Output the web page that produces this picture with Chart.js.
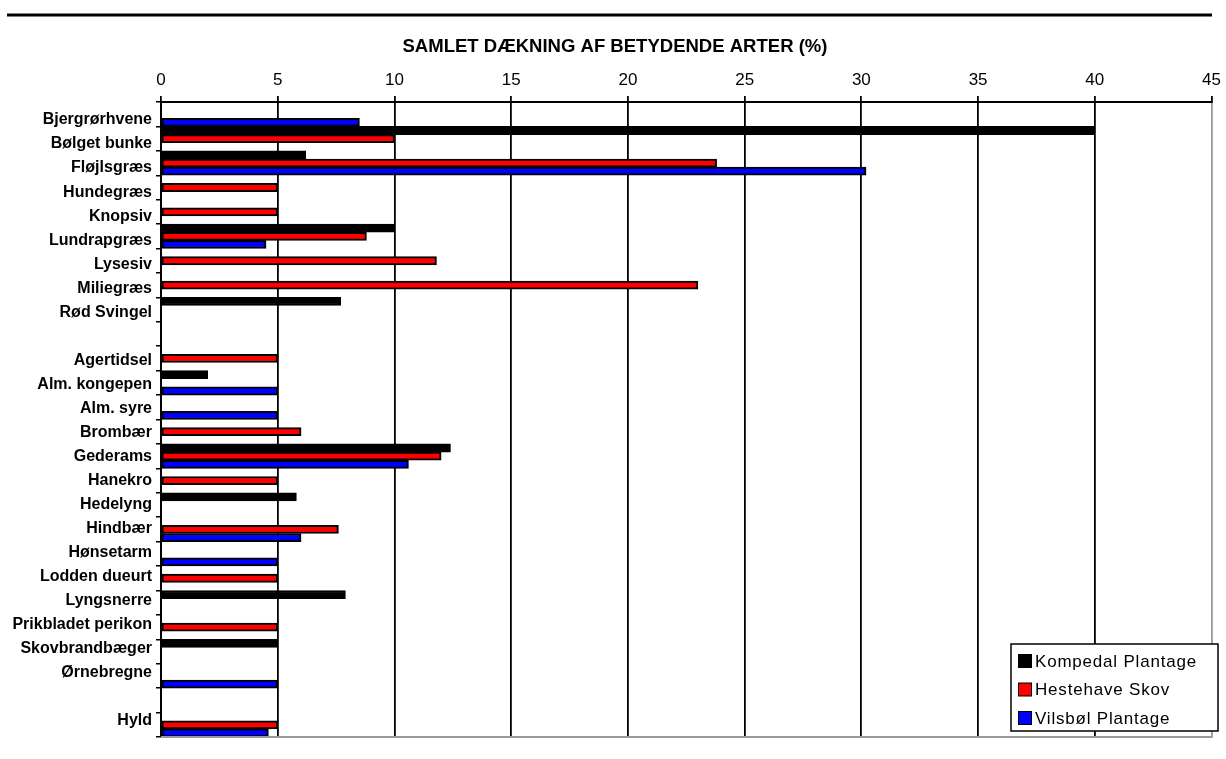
<!DOCTYPE html>
<html>
<head>
<meta charset="utf-8">
<script src="https://cdn.jsdelivr.net/npm/chart.js@4/dist/chart.umd.min.js"></script>
<style>
html,body{margin:0;padding:0;background:#fff;}
#wrap{width:1226px;height:759px;position:relative;}
</style>
</head>
<body>
<div id="wrap"><canvas id="c" width="1226" height="759"></canvas></div>
<script>
const catLabels = ['Bjergrørhvene','Bølget bunke','Fløjlsgræs','Hundegræs','Knopsiv','Lundrapgræs','Lysesiv','Miliegræs','Rød Svingel','','Agertidsel','Alm. kongepen','Alm. syre','Brombær','Gederams','Hanekro','Hedelyng','Hindbær','Hønsetarm','Lodden dueurt','Lyngsnerre','Prikbladet perikon','Skovbrandbæger','Ørnebregne','','Hyld'];
const seriesNames = ['Kompedal Plantage','Hestehave Skov','Vilsbøl Plantage'];
const kompedal  = [null,40,6.2,null,null,10,null,null,7.7,null,null,2,null,null,12.4,null,5.8,null,null,null,7.9,null,5,null,null,null];
const hestehave = [null,10,23.8,5,5,8.8,11.8,23,null,null,5,null,null,6,12,5,null,7.6,null,5,null,5,null,null,null,5];
const vilsbol   = [8.5,null,30.2,null,null,4.5,null,null,null,null,null,5,5,null,10.6,null,null,6,5,null,null,null,null,5,null,4.6];
const xTicks = [0,5,10,15,20,25,30,35,40,45];
const chartTitle = 'SAMLET DÆKNING AF BETYDENDE ARTER (%)';

const FONT = "'Liberation Sans', Arial, sans-serif";

const decorPlugin = {
  id: 'decor',
  beforeDraw(chart) {
    const ctx = chart.ctx;
    ctx.save();
    ctx.fillStyle = '#fff';
    ctx.fillRect(0, 0, chart.width, chart.height);
    ctx.strokeStyle = '#000';
    ctx.lineWidth = 3;
    ctx.beginPath();
    ctx.moveTo(7, 15);
    ctx.lineTo(1212, 15);
    ctx.stroke();
    ctx.font = 'bold 18px ' + FONT;
    ctx.fillStyle = '#000';
    ctx.textBaseline = 'alphabetic';
    ctx.textAlign = 'left';
    const w = ctx.measureText(chartTitle).width;
    const target = 425;
    ctx.translate(615 - target / 2, 52);
    ctx.scale(target / w, 1);
    ctx.fillText(chartTitle, 0, 0);
    ctx.restore();
  },
  afterDatasetsDraw(chart) {
    const ctx = chart.ctx;
    const a = chart.chartArea;
    ctx.save();
    ctx.strokeStyle = '#999';
    ctx.lineWidth = 2;
    ctx.beginPath();
    ctx.moveTo(a.left, a.bottom);
    ctx.lineTo(a.right + 1, a.bottom);
    ctx.stroke();
    const bx = 1011, by = 644, bw = 207, bh = 87;
    ctx.fillStyle = '#fff';
    ctx.fillRect(bx, by, bw, bh);
    ctx.strokeStyle = '#000';
    ctx.lineWidth = 1.5;
    ctx.strokeRect(bx, by, bw, bh);
    const ys = [661, 689.5, 718];
    ctx.font = '17px ' + FONT;
    ctx.textBaseline = 'middle';
    ctx.textAlign = 'left';
    try { ctx.letterSpacing = '0.8px'; } catch (e) {}
    chart.data.datasets.forEach((ds, i) => {
      const y = ys[i];
      ctx.fillStyle = ds.backgroundColor;
      ctx.fillRect(1018.5, y - 6.5, 13, 13);
      ctx.strokeStyle = '#000';
      ctx.lineWidth = 1;
      ctx.strokeRect(1018.5, y - 6.5, 13, 13);
      ctx.fillStyle = '#000';
      ctx.fillText(ds.label, 1035, y + 1);
    });
    try { ctx.letterSpacing = '0px'; } catch (e) {}
    ctx.restore();
  }
};

const barCommon = { borderColor: '#000', borderSkipped: false, categoryPercentage: 1.0, barPercentage: 1.0, borderWidth: 2 };

new Chart(document.getElementById('c'), {
  type: 'bar',
  data: {
    labels: catLabels,
    datasets: [
      Object.assign({ label: seriesNames[0], data: kompedal,  backgroundColor: '#000000' }, barCommon),
      Object.assign({ label: seriesNames[1], data: hestehave, backgroundColor: '#FF0000' }, barCommon),
      Object.assign({ label: seriesNames[2], data: vilsbol,   backgroundColor: '#0000FF' }, barCommon)
    ]
  },
  options: {
    indexAxis: 'y',
    responsive: false,
    animation: false,
    devicePixelRatio: 1,
    layout: { padding: { left: 0, right: 11.5, top: 0, bottom: 22 } },
    plugins: {
      legend: { display: false },
      tooltip: { enabled: false },
      title: { display: false }
    },
    scales: {
      x: {
        type: 'linear',
        position: 'top',
        min: 0,
        max: 45,
        afterBuildTicks: (s) => { s.ticks = xTicks.map(v => ({ value: v })); },
        afterFit: (s) => { s.height = 102; },
        ticks: {
          color: '#000',
          font: { family: FONT, size: 17 },
          padding: 5,
          maxRotation: 0
        },
        grid: {
          color: (c) => (c.tick && c.tick.value === 45) ? '#999' : '#000',
          lineWidth: 1.8,
          tickLength: 6,
          tickColor: '#000'
        },
        border: { display: true, color: '#000', width: 2 }
      },
      y: {
        type: 'category',
        position: 'left',
        weight: 0,
        afterFit: (s) => { s.width = 5; },
        ticks: { display: false, autoSkip: false },
        grid: {
          drawOnChartArea: false,
          color: '#000',
          lineWidth: 1.5,
          tickLength: 5,
          offset: true
        },
        border: { display: true, color: '#000', width: 2 }
      },
      yl: {
        type: 'linear',
        position: 'left',
        weight: 1,
        reverse: true,
        min: -0.24,
        max: 25.16,
        afterBuildTicks: (s) => { s.ticks = catLabels.map((l, i) => ({ value: i })); },
        afterFit: (s) => { s.width = 156; },
        ticks: {
          autoSkip: false,
          color: '#000',
          padding: 4,
          font: { family: FONT, size: 16, weight: 'bold' },
          callback: (v) => catLabels[v] !== undefined ? catLabels[v] : ''
        },
        grid: { display: false, drawTicks: false },
        border: { display: false }
      }
    }
  },
  plugins: [decorPlugin]
});
</script>
</body>
</html>
